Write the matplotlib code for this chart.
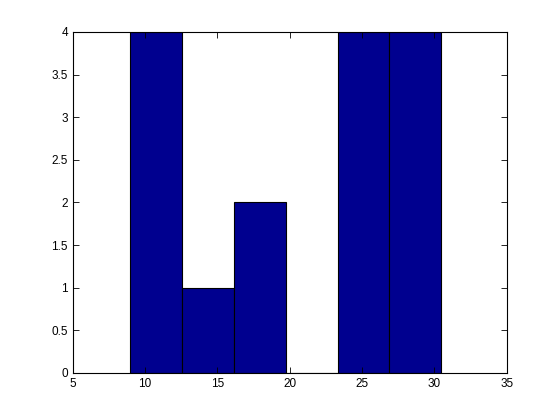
import matplotlib
matplotlib.use("Agg")
import matplotlib.pyplot as plt
import numpy as np

bin_edges = [8.94, 12.53, 16.12, 19.72, 23.31, 26.88, 30.43]
counts = [4, 1, 2, 0, 4, 4]
xticks = [5, 10, 15, 20, 25, 30, 35]
yticks = [0, 0.5, 1, 1.5, 2, 2.5, 3, 3.5, 4]
ytick_labels = ["0", "0.5", "1", "1.5", "2", "2.5", "3", "3.5", "4"]

plt.rcParams['font.family'] = ['Liberation Sans', 'DejaVu Sans']
fig = plt.figure(figsize=(5.6, 4.2), dpi=100)
ax = fig.add_axes([0.13, 0.112, 0.775, 0.812])
edges = np.array(bin_edges)
ax.bar(edges[:-1], counts, width=np.diff(edges), align='edge',
       color=(0, 0, 0.5625), edgecolor='black', linewidth=0.8)
ax.set_xlim(5, 35)
ax.set_ylim(0, 4)
ax.set_xticks(xticks)
ax.set_yticks(yticks)
ax.set_yticklabels(ytick_labels)
ax.tick_params(direction='in', top=True, right=True, labelsize=8.5, length=4, width=0.6)
for s in ax.spines.values():
    s.set_linewidth(0.8)
fig.savefig("out.png", dpi=100)
